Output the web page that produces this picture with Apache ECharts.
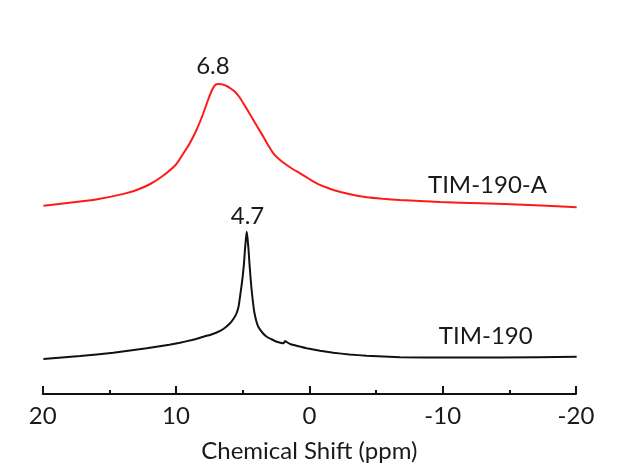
<!DOCTYPE html>
<html>
<head>
<meta charset="utf-8">
<script src="https://cdn.jsdelivr.net/npm/echarts@6/dist/echarts.min.js"></script>
<style>html,body{margin:0;padding:0;background:#fff}#c{width:621px;height:470px}</style>
</head>
<body>
<div id="c"></div>
<script>
// x: chemical shift (ppm); y: intensity (arb. units, spectra offset)
const redPpm = [19.95, 18, 16, 14, 13, 12, 11, 10, 9.5, 9, 8.5, 8, 7.6, 7.3, 7.05, 6.83, 6.5, 6.2, 5.9, 5.58, 5.25, 4.95, 4.6, 4.2, 3.8, 3.45, 3.1, 2.7, 2.2, 1.7, 1.2, 0.7, 0, -0.55, -1.2, -1.8, -3.05, -4.3, -5.5, -6.8, -9.8, -12.8, -16.5, -20.05];
const redVal = [188.3, 191.3, 194.6, 199.9, 203.8, 209.5, 218, 229.5, 239.5, 250, 263, 279, 294, 304, 309.3, 310, 309.5, 308, 305.5, 302.3, 297, 290.7, 283, 274, 265, 257.3, 249, 240.7, 234, 229, 224.5, 220.7, 215, 210.7, 207, 204, 199.7, 196.7, 195.2, 194, 192, 190.7, 189, 186.7];
const blackPpm = [19.95, 17.2, 14.7, 12.2, 10.5, 9.7, 8.8, 7.95, 7.4, 6.95, 6.45, 5.95, 5.65, 5.45, 5.3, 5.2, 5.1, 5.0, 4.9, 4.83, 4.76, 4.7, 4.63, 4.56, 4.5, 4.42, 4.33, 4.23, 4.13, 3.98, 3.83, 3.5, 3.2, 2.8, 2.45, 2.1, 1.95, 1.82, 1.7, 1.45, 0.8, 0.2, -0.8, -1.8, -3, -4.3, -6.8, -10.55, -14.3, -20.05];
const blackVal = [35, 38, 41.3, 45.7, 49.3, 51.3, 54, 57.3, 59.3, 61.5, 65, 70.7, 76, 81, 88, 97.3, 107, 117.3, 131, 144, 155, 162.3, 155, 144, 132, 118, 104, 92, 82, 73, 67.3, 61, 57.3, 54.5, 52.3, 51, 50.7, 53, 52, 50, 47.7, 45.7, 43.3, 41.3, 39.5, 38.3, 36.7, 36.5, 36.5, 37.3];
const seriesNames = ['TIM-190-A', 'TIM-190'];
const peakLabels = ['6.8', '4.7'];
const peakLabelPos = [[7.23, 328], [4.64, 178]];
const nameLabelPos = [[-13.36, 209], [-13.23, 57.3]];
const xTicks = [20, 10, 0, -10, -20];
const xTitle = 'Chemical Shift (ppm)';

const zip = (a, b) => a.map((v, i) => [v, b[i]]);
const font = 'Lato, "Open Sans", sans-serif';
const txt = '#1a1a1a';

function marks(i) {
  return {
    symbol: 'circle', symbolSize: 0, silent: true, animation: false,
    label: { show: true, position: 'inside', color: txt, fontFamily: font, fontSize: 24, formatter: p => p.name },
    data: [
      { name: peakLabels[i], coord: peakLabelPos[i] },
      { name: seriesNames[i], coord: nameLabelPos[i] }
    ]
  };
}

const chart = echarts.init(document.getElementById('c'), null, { renderer: 'canvas' });
chart.setOption({
  animation: false,
  backgroundColor: '#fff',
  grid: { left: 42.7, right: 45, top: 44, bottom: 76, containLabel: false },
  xAxis: {
    type: 'value', inverse: true, min: -20, max: 20, interval: 10,
    name: xTitle, nameLocation: 'middle', nameGap: 45,
    nameTextStyle: { color: txt, fontFamily: font, fontSize: 24 },
    axisLine: { show: true, lineStyle: { color: '#111', width: 2 } },
    axisTick: { show: true, inside: true, length: 8, lineStyle: { color: '#111', width: 2 } },
    minorTick: { show: true, splitNumber: 2, length: 4, lineStyle: { color: '#111', width: 2 } },
    axisLabel: { color: txt, fontFamily: font, fontSize: 24, margin: 10,
      formatter: v => xTicks.includes(v) ? String(v) : '' },
    splitLine: { show: false }
  },
  yAxis: { type: 'value', min: 0, max: 350, show: false },
  series: [
    { name: seriesNames[0], type: 'line', data: zip(redPpm, redVal), showSymbol: false, smooth: 0.2,
      lineStyle: { color: '#ff1a1a', width: 2 }, markPoint: marks(0) },
    { name: seriesNames[1], type: 'line', data: zip(blackPpm, blackVal), showSymbol: false, smooth: 0.1,
      lineStyle: { color: '#111', width: 2 }, markPoint: marks(1) }
  ]
});
</script>
</body>
</html>
